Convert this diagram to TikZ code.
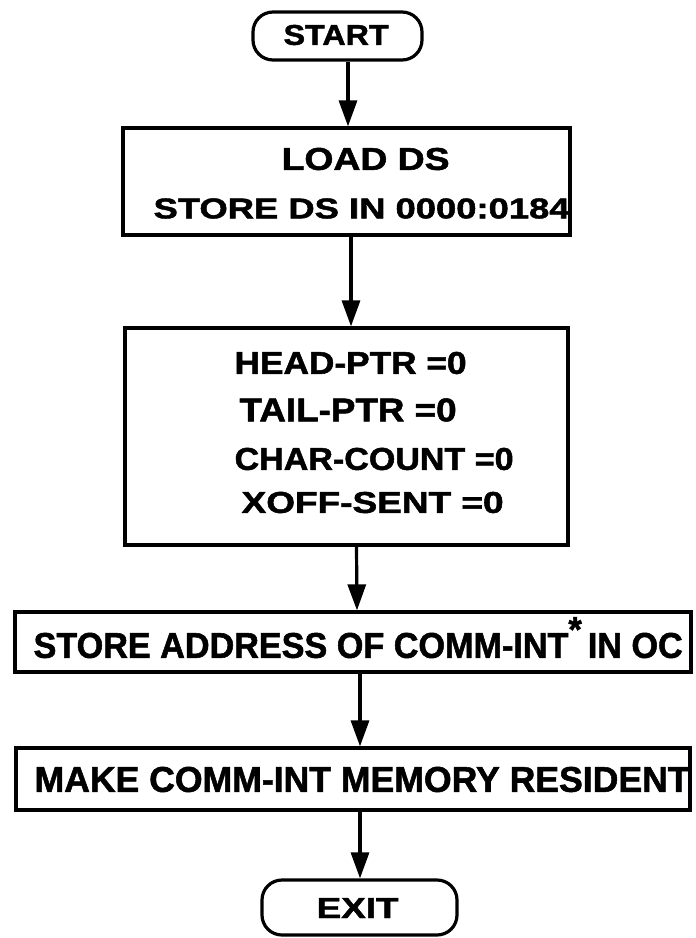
\documentclass[tikz,border=0pt]{standalone}
\usepackage{fontspec}
\setmainfont{Liberation Sans}[BoldFeatures={FakeBold=1.5}]
\usepackage{graphicx}
\usetikzlibrary{arrows.meta}
\newcommand{\fitt}[3]{\resizebox{#1}{#2}{\bfseries #3}}
\begin{document}
\begin{tikzpicture}[x=1pt,y=-1pt, line width=3.2pt,
  box/.style={draw, rectangle, inner sep=0pt},
  term/.style={draw, rectangle, rounded corners=20pt, inner sep=0pt},
  lbl/.style={anchor=west, inner sep=0pt},
  arr/.style={-{Triangle[length=26pt,width=18pt]}}]
\useasboundingbox (0,0) rectangle (696,938);
% shapes
\node[term, minimum width=169pt, minimum height=48pt] (s) at (337.5,36) {};
\node[box, minimum width=447pt, minimum height=107pt] (b1) at (346.5,181.5) {};
\node[box, minimum width=443pt, minimum height=217pt] (b2) at (346.5,436.5) {};
\node[box, minimum width=676pt, minimum height=60pt] (b3) at (353,642) {};
\node[box, minimum width=674pt, minimum height=62pt] (b4) at (353,779) {};
\node[term, minimum width=195pt, minimum height=55pt] (e) at (359.5,907.5) {};
% texts
\node[lbl] (ts) at (282,35) {\fitt{105pt}{20pt}{START}};
\node[lbl] (t1a) at (280,159) {\fitt{168pt}{22pt}{LOAD DS}};
\node[lbl] (t1b) at (152,208.5) {\fitt{416pt}{20pt}{STORE DS IN 0000:0184}};
\node[lbl] (t2a) at (233,363) {\fitt{232pt}{22pt}{HEAD-PTR =0}};
\node[lbl] (t2b) at (238,410) {\fitt{217pt}{23pt}{TAIL-PTR =0}};
\node[lbl] (t2c) at (233,459) {\fitt{279pt}{22pt}{CHAR-COUNT =0}};
\node[lbl] (t2d) at (240,502.5) {\fitt{262pt}{21pt}{XOFF-SENT =0}};
\node[lbl] (t3) at (32,645.5) {\fitt{649pt}{25pt}{STORE ADDRESS OF COMM-INT\raisebox{0.45em}[0pt][0pt]{*}\hspace{-0.1em} IN OC}};
\node[lbl] (t4) at (33,779.5) {\fitt{655pt}{25pt}{MAKE COMM-INT MEMORY RESIDENT}};
\node[lbl] (te) at (315,908) {\fitt{82pt}{20pt}{EXIT}};
% connectors
\draw[arr] ([xshift=10.5pt]s.south) -- ([xshift=1.5pt]b1.north);
\draw[arr] ([xshift=4.5pt]b1.south) -- ([xshift=4.5pt]b2.north);
\draw[arr] ([xshift=10pt]b2.south) -- ([xshift=4pt]b3.north);
\draw[arr] ([xshift=7pt]b3.south) -- ([xshift=7pt]b4.north);
\draw[arr] ([xshift=7pt]b4.south) -- ([xshift=0.5pt]e.north);
\end{tikzpicture}
\end{document}
